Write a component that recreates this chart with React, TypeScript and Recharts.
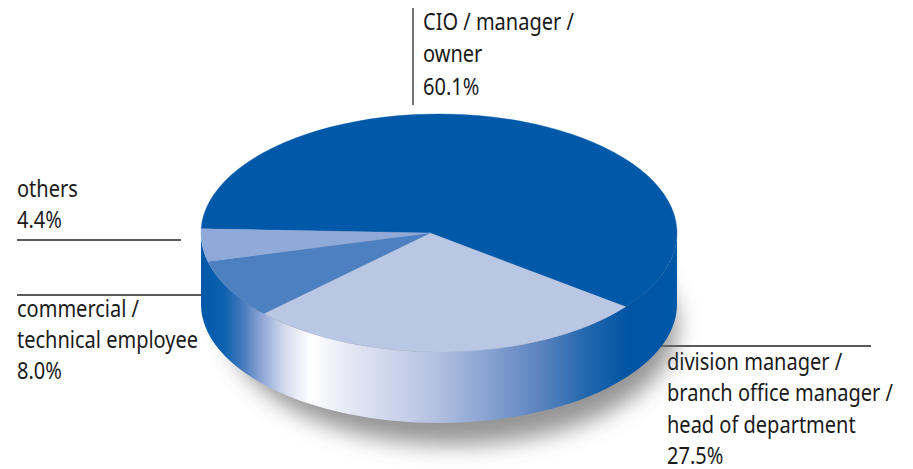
import { PieChart, Pie, Cell } from 'recharts'

const categories = ['CIO / manager / owner', 'division manager / branch office manager / head of department', 'commercial / technical employee', 'others']
const shares = [60.1, 27.5, 8.0, 4.4]
const faceColors = ['#0058a9', '#b9c6e4', '#4c80c1', '#8fa9d8']

const data = categories.map((name, i) => ({ name, value: shares[i] }))
const wholeDisc = [{ name: 'disc', value: 100 }]

const FONT = '"Noto Sans", sans-serif'
const CX = 439
const CY = 233
const RX = 238
const TILT = 119 / 238
const DEPTH = 71
const APEX_SHIFT = -9

const wallStops: Array<[string, string]> = [
  ['0%', '#0058a9'],
  ['5%', '#0f62af'],
  ['9%', '#4a7cbe'],
  ['13%', '#93a9d8'],
  ['18%', '#d8deef'],
  ['23%', '#ffffff'],
  ['30%', '#e8ebf6'],
  ['49%', '#b4c1e1'],
  ['62%', '#809dce'],
  ['71%', '#5d84bf'],
  ['81%', '#2267ae'],
  ['90%', '#0054a3'],
  ['100%', '#0058a9'],
]

function rimPoint(cx: number, cy: number, r: number, angle: number) {
  const a = (angle * Math.PI) / 180
  return { x: cx + r * Math.cos(a), y: cy - r * TILT * Math.sin(a) }
}

function FaceSector(props: any) {
  const { cx, cy, outerRadius: r, startAngle, endAngle, fill } = props
  const p1 = rimPoint(cx, cy, r, startAngle)
  const p2 = rimPoint(cx, cy, r, endAngle)
  const large = Math.abs(startAngle - endAngle) > 180 ? 1 : 0
  const d = `M${cx + APEX_SHIFT},${cy} L${p1.x},${p1.y} A${r},${r * TILT} 0 ${large} 1 ${p2.x},${p2.y} Z`
  return <path d={d} fill={fill} stroke={fill} strokeWidth={0.4} />
}

// front half of the disc edge, one piece so the gradient has no seams
function WallDisc(props: any) {
  const { cx, cy, outerRadius: r } = props
  const ry = r * TILT
  const d = `M${cx - r},${cy} L${cx - r},${cy + DEPTH} A${r},${ry} 0 0 0 ${cx + r},${cy + DEPTH} L${cx + r},${cy} A${r},${ry} 0 0 1 ${cx - r},${cy} Z`
  return <path d={d} fill="url(#wallFill)" />
}

function ShadowDisc(props: any) {
  const { cx, cy, outerRadius: r } = props
  return (
    <ellipse
      cx={cx + 14}
      cy={cy + DEPTH + 22}
      rx={r - 14}
      ry={r * TILT}
      fill="#6e6e6e"
      fillOpacity={0.72}
      filter="url(#softShadow)"
    />
  )
}

function TextLine({ x, y, children }: { x: number; y: number; children: string }) {
  return (
    <text
      transform={`translate(${x},${y}) scale(0.87,1)`}
      fontFamily={FONT}
      fontSize={23}
      fill="#1a1a1a"
    >
      {children}
    </text>
  )
}

export default function App() {
  return (
    <div style={{ position: 'absolute', left: 0, top: 0, width: 913, height: 469, background: '#fff' }}>
      <PieChart width={913} height={469} margin={{ top: 0, right: 0, bottom: 0, left: 0 }}>
        <defs>
          <linearGradient id="wallFill" gradientUnits="userSpaceOnUse" x1={201} y1={0} x2={677} y2={0}>
            {wallStops.map(([offset, color]) => (
              <stop key={offset} offset={offset} stopColor={color} />
            ))}
          </linearGradient>
          <filter id="softShadow" x="-20%" y="-20%" width="140%" height="140%">
            <feGaussianBlur stdDeviation="11" />
          </filter>
        </defs>

        <Pie data={wholeDisc} dataKey="value" cx={CX} cy={CY} outerRadius={RX} stroke="none"
          shape={ShadowDisc} isAnimationActive={false} />
        <Pie data={wholeDisc} dataKey="value" cx={CX} cy={CY} outerRadius={RX} stroke="none"
          shape={WallDisc} isAnimationActive={false} />
        <Pie data={data} dataKey="value" cx={CX} cy={CY} outerRadius={RX} startAngle={178} endAngle={-182} stroke="none"
          shape={FaceSector} isAnimationActive={false}>
          {data.map((d, i) => <Cell key={d.name} fill={faceColors[i]} />)}
        </Pie>

        <line x1={413} y1={8} x2={413} y2={105} stroke="#444" strokeWidth={1.5} />
        <line x1={17} y1={240} x2={181} y2={240} stroke="#222" strokeWidth={1.5} />
        <line x1={17} y1={295} x2={212} y2={295} stroke="#222" strokeWidth={1.5} />
        <line x1={558} y1={346} x2={871} y2={346} stroke="#222" strokeWidth={1.5} />

        <TextLine x={423} y={30}>CIO / manager /</TextLine>
        <TextLine x={423} y={62}>owner</TextLine>
        <TextLine x={423} y={95}>60.1%</TextLine>

        <TextLine x={17} y={197}>others</TextLine>
        <TextLine x={17} y={228}>4.4%</TextLine>

        <TextLine x={17} y={317}>commercial /</TextLine>
        <TextLine x={17} y={348}>technical employee</TextLine>
        <TextLine x={17} y={379}>8.0%</TextLine>

        <TextLine x={667} y={370}>division manager /</TextLine>
        <TextLine x={667} y={401}>branch office manager /</TextLine>
        <TextLine x={667} y={433}>head of department</TextLine>
        <TextLine x={667} y={464}>27.5%</TextLine>
      </PieChart>
    </div>
  )
}
